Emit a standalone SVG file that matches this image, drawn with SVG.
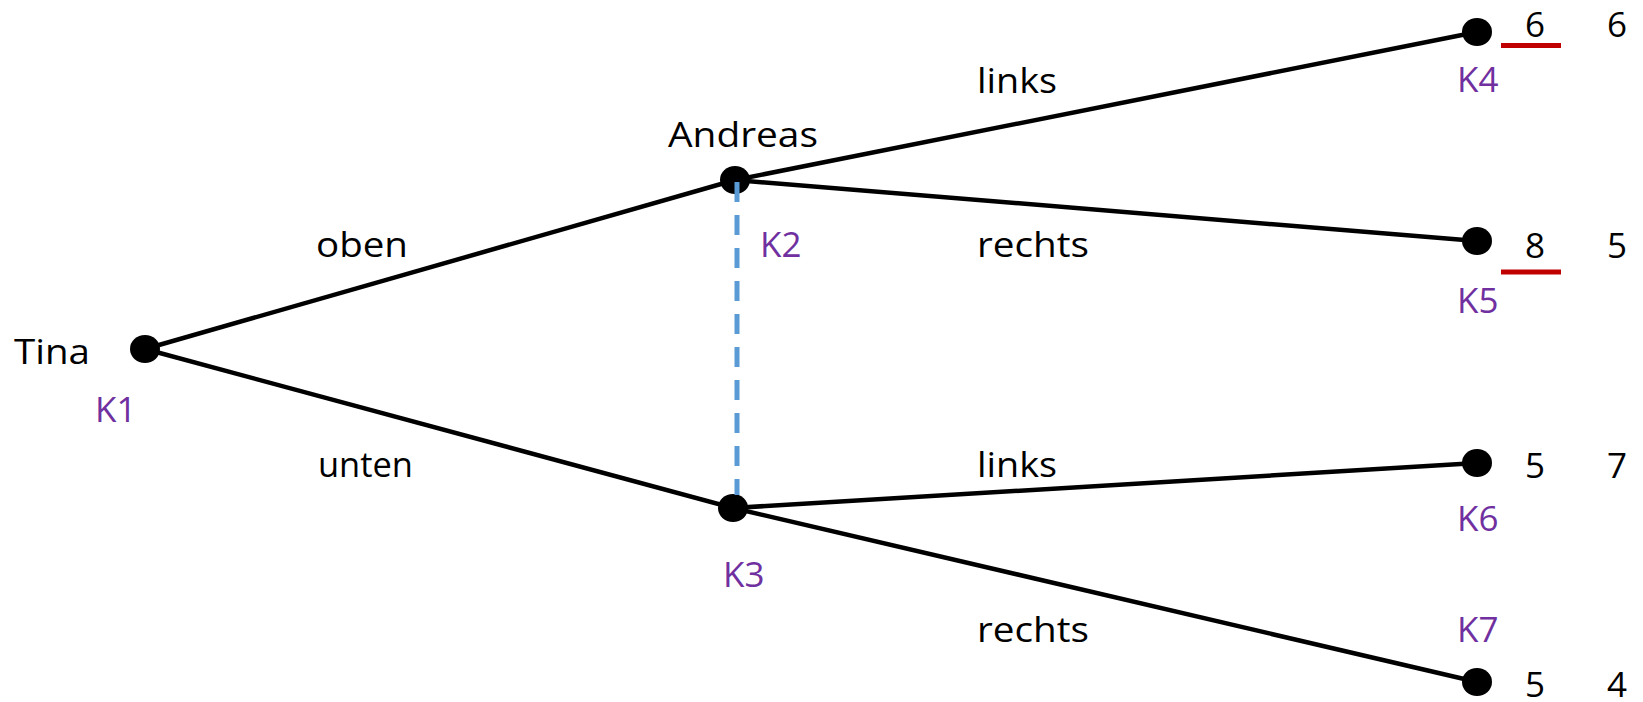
<svg xmlns="http://www.w3.org/2000/svg" width="1643" height="702" viewBox="0 0 1643 702">
<style>
text{font-family:"Open Sans","Noto Sans","Liberation Sans",sans-serif;font-size:35px;fill:#000}
.k{fill:#7030A0}
.e{stroke:#000;stroke-width:4.5;fill:none}
.n{fill:#000}
.u{stroke:#C00000;stroke-width:5}
</style>
<rect width="1643" height="702" fill="#fff"/>
<g id="connectors">
<line class="e" x1="145" y1="349" x2="735" y2="180"/>
<line class="e" x1="145" y1="349" x2="733" y2="508"/>
<line class="e" x1="735" y1="180" x2="1477" y2="32"/>
<line class="e" x1="735" y1="180" x2="1477" y2="241"/>
<line class="e" x1="733" y1="508" x2="1477" y2="463"/>
<line class="e" x1="733" y1="508" x2="1477" y2="682"/>
</g>
<g id="edge-labels">
<text x="316" y="257" textLength="92" lengthAdjust="spacingAndGlyphs">oben</text>
<text x="318" y="477" textLength="95" lengthAdjust="spacingAndGlyphs">unten</text>
<text x="977" y="93" textLength="80" lengthAdjust="spacingAndGlyphs">links</text>
<text x="977" y="257" textLength="112" lengthAdjust="spacingAndGlyphs">rechts</text>
<text x="977" y="477" textLength="80" lengthAdjust="spacingAndGlyphs">links</text>
<text x="977" y="642" textLength="112" lengthAdjust="spacingAndGlyphs">rechts</text>
</g>
<g id="K1">
<ellipse class="n" cx="145" cy="349" rx="15" ry="14"/>
<text x="14" y="364" textLength="76" lengthAdjust="spacingAndGlyphs">Tina</text>
<text class="k" x="95" y="422">K1</text>
</g>
<g id="K2">
<ellipse class="n" cx="735" cy="180" rx="15" ry="14"/>
<text x="668" y="147" textLength="150" lengthAdjust="spacingAndGlyphs">Andreas</text>
<text class="k" x="760" y="257">K2</text>
</g>
<g id="K3">
<ellipse class="n" cx="733" cy="508" rx="15" ry="14"/>
<text class="k" x="723" y="587">K3</text>
</g>
<g id="info-set">
<line x1="737" y1="182" x2="737" y2="495" stroke="#5B9BD5" stroke-width="5" stroke-dasharray="20 13"/>
</g>
<g id="K4">
<ellipse class="n" cx="1477" cy="32" rx="15" ry="14"/>
<text class="k" x="1457" y="92">K4</text>
<text x="1525" y="37">6</text>
<text x="1607" y="37">6</text>
<line class="u" x1="1501" y1="45.5" x2="1561" y2="45.5"/>
</g>
<g id="K5">
<ellipse class="n" cx="1477" cy="241" rx="15" ry="14"/>
<text class="k" x="1457" y="313">K5</text>
<text x="1525" y="258">8</text>
<text x="1607" y="258">5</text>
<line class="u" x1="1501" y1="272" x2="1561" y2="272"/>
</g>
<g id="K6">
<ellipse class="n" cx="1477" cy="463" rx="15" ry="14"/>
<text class="k" x="1457" y="531">K6</text>
<text x="1525" y="478">5</text>
<text x="1607" y="478">7</text>
</g>
<g id="K7">
<ellipse class="n" cx="1477" cy="682" rx="15" ry="14"/>
<text class="k" x="1457" y="642">K7</text>
<text x="1525" y="697">5</text>
<text x="1607" y="697">4</text>
</g>
</svg>
